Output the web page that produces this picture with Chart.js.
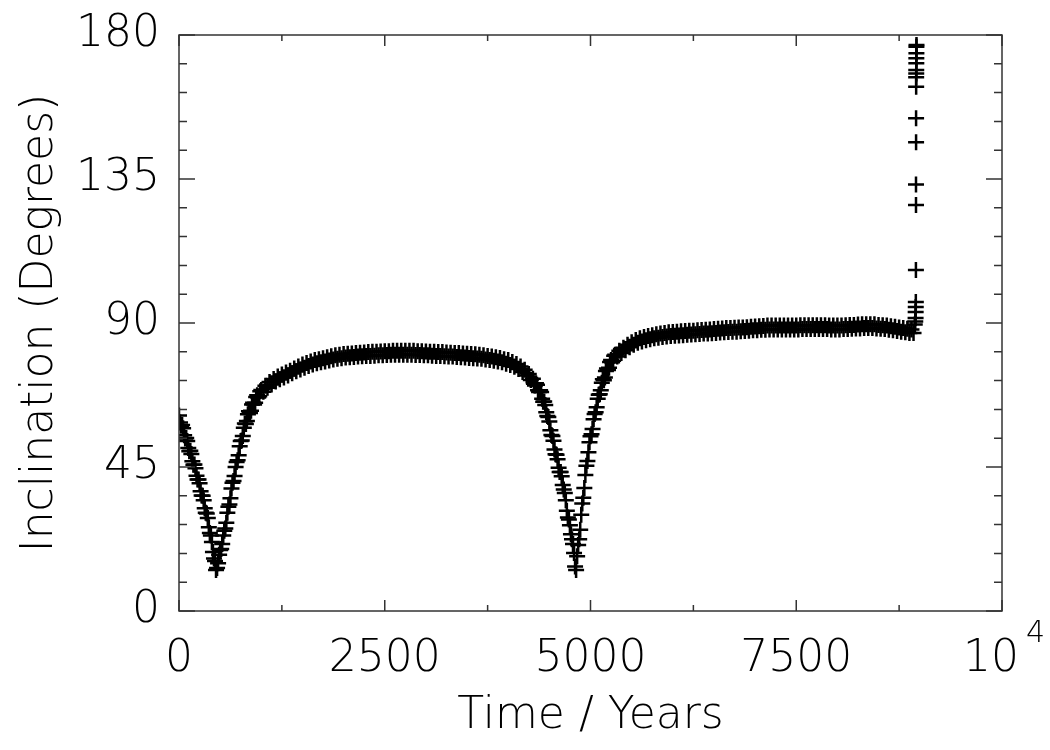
<!DOCTYPE html>
<html>
<head>
<meta charset="utf-8">
<script src="https://cdn.jsdelivr.net/npm/chart.js@4"></script>
<style>
  body { margin: 0; background: #fff; }
  #wrap { width: 1050px; height: 750px; }
</style>
</head>
<body>
<div id="wrap"><canvas id="chart-area" width="1050" height="750"></canvas></div>
<script>
// time samples (years) and inclination (degrees)
var years = [
  0,25,50,75,100,125,150,175,200,225,250,275,300,325,350,375,400,425,450,475,
  500,525,550,575,600,625,650,675,700,725,750,775,800,825,850,875,900,925,950,975,
  1000,1025,1050,1075,1100,1125,1150,1175,1200,1225,1250,1275,1300,1325,1350,1375,1400,1425,1450,1475,
  1500,1525,1550,1575,1600,1625,1650,1675,1700,1725,1750,1775,1800,1825,1850,1875,1900,1925,1950,1975,
  2000,2025,2050,2075,2100,2125,2150,2175,2200,2225,2250,2275,2300,2325,2350,2375,2400,2425,2450,2475,
  2500,2525,2550,2575,2600,2625,2650,2675,2700,2725,2750,2775,2800,2825,2850,2875,2900,2925,2950,2975,
  3000,3025,3050,3075,3100,3125,3150,3175,3200,3225,3250,3275,3300,3325,3350,3375,3400,3425,3450,3475,
  3500,3525,3550,3575,3600,3625,3650,3675,3700,3725,3750,3775,3800,3825,3850,3875,3900,3925,3950,3975,
  4000,4025,4050,4075,4100,4125,4150,4175,4200,4225,4250,4275,4300,4325,4350,4375,4400,4425,4450,4475,
  4500,4525,4550,4575,4600,4625,4650,4675,4700,4725,4750,4775,4800,4825,4850,4875,4900,4925,4950,4975,
  5000,5025,5050,5075,5100,5125,5150,5175,5200,5225,5250,5275,5300,5325,5350,5375,5400,5425,5450,5475,
  5500,5525,5550,5575,5600,5625,5650,5675,5700,5725,5750,5775,5800,5825,5850,5875,5900,5925,5950,5975,
  6000,6025,6050,6075,6100,6125,6150,6175,6200,6225,6250,6275,6300,6325,6350,6375,6400,6425,6450,6475,
  6500,6525,6550,6575,6600,6625,6650,6675,6700,6725,6750,6775,6800,6825,6850,6875,6900,6925,6950,6975,
  7000,7025,7050,7075,7100,7125,7150,7175,7200,7225,7250,7275,7300,7325,7350,7375,7400,7425,7450,7475,
  7500,7525,7550,7575,7600,7625,7650,7675,7700,7725,7750,7775,7800,7825,7850,7875,7900,7925,7950,7975,
  8000,8025,8050,8075,8100,8125,8150,8175,8200,8225,8250,8275,8300,8325,8350,8375,8400,8425,8450,8475,
  8500,8525,8550,8575,8600,8625,8650,8675,8700,8725,8750,8775,8800,8825,8850,8875,8900,8925
];
var inclination = [
  61.1,57.9,57.1,53.9,53.1,49.9,49.1,45.7,44.6,41.1,39.9,36.1,34.6,30.7,29.1,24.4,21.6,16.4,12.8,14.9,
  19.1,20.9,25.1,27.6,32.6,35.2,40.1,42.2,46.6,48.7,53.1,54.7,58.6,59.4,62.4,62.6,65.1,65.1,67.4,67.1,
  69.1,68.5,70.4,69.8,71.6,70.8,72.5,71.7,73.3,72.4,73.9,73,74.5,73.6,75.1,74.3,75.8,74.9,76.4,75.5,
  77,76,77.5,76.6,78,77,78.4,77.4,78.7,77.7,79,78,79.3,78.3,79.6,78.6,79.9,78.8,80.1,79,
  80.3,79.2,80.4,79.3,80.5,79.4,80.6,79.5,80.7,79.6,80.8,79.7,80.9,79.7,81,79.8,81,79.9,81.1,79.9,
  81.2,80,81.2,80.1,81.3,80.1,81.3,80.1,81.3,80.1,81.3,80.1,81.3,80.1,81.3,80,81.2,80,81.2,79.9,
  81.1,79.9,81,79.8,81,79.7,80.9,79.7,80.9,79.6,80.8,79.5,80.7,79.5,80.6,79.4,80.6,79.3,80.5,79.2,
  80.4,79.1,80.3,79,80.2,78.9,80.1,78.8,79.9,78.6,79.7,78.4,79.5,78.2,79.3,78,79.1,77.7,78.7,77.3,
  78.4,76.9,77.8,76.3,77.2,75.6,76.4,74.7,75.4,73.6,74.1,72.2,72.6,70.5,70.7,68.4,68.4,65.4,64.4,60.9,
  59.2,55,53.2,49,47.4,43.4,42.1,38,34.6,29.2,26.8,22.4,18.1,12.8,20.6,25.4,33.6,38.4,45.4,49.6,
  54.6,56.9,61.6,63.7,67.6,69,72.4,73,75.8,76,78.4,78.2,80.1,79.5,81.3,80.6,82.3,81.5,83.2,82.4,
  84,83.2,84.7,83.8,85.2,84.2,85.6,84.6,85.9,84.9,86.2,85.2,86.5,85.4,86.7,85.6,86.9,85.8,87.1,85.9,
  87.2,86,87.3,86.1,87.4,86.2,87.5,86.3,87.6,86.4,87.6,86.5,87.7,86.6,87.8,86.7,87.9,86.7,88,86.8,
  88.1,86.9,88.2,87,88.3,87.1,88.4,87.2,88.4,87.3,88.5,87.3,88.6,87.4,88.6,87.5,88.7,87.6,88.8,87.7,
  88.9,87.7,89,87.9,89.1,87.9,89.2,88,89.2,88,89.2,88,89.2,88,89.2,88,89.2,88,89.2,88,
  89.2,88,89.3,88.1,89.3,88.1,89.3,88.1,89.3,88.1,89.3,88.1,89.3,88.1,89.3,88.1,89.2,88,89.2,88,
  89.2,88,89.2,88.1,89.3,88.1,89.4,88.2,89.4,88.3,89.5,88.3,89.6,88.4,89.6,88.4,89.6,88.4,89.6,88.3,
  89.4,88.2,89.3,88.1,89.2,87.9,89,87.7,88.8,87.5,88.6,87.3,88.4,87.1,88.2,86.9,88,86.9
];
// in-between samples through the two dips, where the curve is steep
var dipYears = [
  12.5,37.5,62.5,87.5,112.5,137.5,162.5,187.5,212.5,237.5,262.5,287.5,312.5,337.5,362.5,387.5,412.5,437.5,462.5,487.5,
  512.5,537.5,562.5,587.5,612.5,637.5,662.5,687.5,712.5,737.5,762.5,787.5,812.5,837.5,862.5,887.5,912.5,937.5,962.5,987.5,
  4312.5,4337.5,4362.5,4387.5,4412.5,4437.5,4462.5,4487.5,4512.5,4537.5,4562.5,4587.5,4612.5,4637.5,4662.5,4687.5,4712.5,4737.5,4762.5,4787.5,
  4812.5,4837.5,4862.5,4887.5,4912.5,4937.5,4962.5,4987.5,5012.5,5037.5,5062.5,5087.5,5112.5,5137.5,5162.5,5187.5,5212.5,5237.5,5262.5,5287.5
];
var dipIncl = [
  58.9,58.1,54.9,54.1,50.9,50.1,46.8,45.8,42.3,41.1,37.4,36,32.1,30.5,26.2,23.6,18.4,15.6,13.4,17.6,
  19.4,23.6,25.8,30.7,33.3,38.3,40.6,45,47.1,51.5,53.3,57.3,58.4,61.5,61.9,64.5,64.5,66.9,66.7,68.7,
  71,71.2,69,69,66.3,65.5,62.1,60.6,56.5,54.7,50.5,48.8,44.8,43.4,39.4,36.9,31.3,28.6,24,20.9,
  13.9,17.1,22.4,30.1,35.4,42.5,46.9,52.7,55.2,59.9,62.1,66.3,67.7,71.3,72.1,75,75.3,77.8,77.7,79.8
];
// the last few samples, where the orbit flips
var burstYears = [8940,8946,8950,8951,8952,8953,8954,8955,8955,8956,8956,8957,8957,8958,8958,8959,8959,8960,8960,8961];
var burstIncl = [89.5,90.5,91.6,93.4,95,96.6,106.6,126.9,133.3,146.5,154,163.8,166.8,168,169.1,171.2,172.7,174.3,176.3,176.9];

var xMajor = [0, 2500, 5000, 7500, 10000];
var xMinor = [1250, 3750, 6250, 8750];
var yMajor = [0, 45, 90, 135, 180];
var yMinor = [9,18,27,36,54,63,72,81,99,108,117,126,144,153,162,171];

var FONT = '"DejaVu Sans", sans-serif';

function pairs(xs, ys) {
  return xs.map(function(t, i) { return { x: t, y: ys[i] }; });
}

var frame = {
  id: 'frame',
  afterDraw: function(chart) {
    var ctx = chart.ctx, a = chart.chartArea;
    var x = chart.scales.x, y = chart.scales.y;
    ctx.save();
    ctx.strokeStyle = '#333';
    ctx.lineWidth = 1.5;
    ctx.strokeRect(a.left, a.top, a.right - a.left, a.bottom - a.top);
    ctx.beginPath();
    xMajor.concat(xMinor).forEach(function(v) {
      var px = x.getPixelForValue(v), len = xMajor.indexOf(v) >= 0 ? 11 : 6;
      ctx.moveTo(px, a.bottom); ctx.lineTo(px, a.bottom - len);
      ctx.moveTo(px, a.top); ctx.lineTo(px, a.top + len);
    });
    yMajor.concat(yMinor).forEach(function(v) {
      var py = y.getPixelForValue(v), len = yMajor.indexOf(v) >= 0 ? 16 : 8;
      ctx.moveTo(a.left, py); ctx.lineTo(a.left + len, py);
      ctx.moveTo(a.right, py); ctx.lineTo(a.right - len, py);
    });
    ctx.stroke();
    // exponent of the 10^4 label
    ctx.fillStyle = '#000';
    ctx.font = '200 30px ' + FONT;
    ctx.textBaseline = 'middle';
    ctx.fillText('4', x.getPixelForValue(10000) + 24, 634);
    ctx.restore();
  }
};

var markerStyle = {
  pointStyle: 'cross',
  pointRadius: 8,
  borderColor: '#000',
  backgroundColor: '#000',
  borderWidth: 2.5
};

new Chart(document.getElementById('chart-area'), {
  type: 'scatter',
  data: {
    datasets: [
      Object.assign({ label: 'Inclination', data: pairs(years, inclination) }, markerStyle),
      Object.assign({ label: 'Dips', data: pairs(dipYears, dipIncl) }, markerStyle),
      Object.assign({ label: 'Flip', data: pairs(burstYears, burstIncl) }, markerStyle)
    ]
  },
  options: {
    responsive: false,
    animation: false,
    events: [],
    layout: { padding: { left: 0, right: 48, top: 35, bottom: 0 } },
    plugins: { legend: { display: false }, tooltip: { enabled: false } },
    scales: {
      x: {
        type: 'linear', min: 0, max: 10000,
        grid: { display: false, drawTicks: false },
        border: { display: false },
        ticks: {
          stepSize: 2500, autoSkip: false, maxRotation: 0, padding: 22,
          color: '#000', font: { family: FONT, size: 44, weight: 200 },
          callback: function(v) { return v === 10000 ? '10\u2002' : String(v); }
        },
        title: {
          display: true, text: 'Time / Years', color: '#000',
          font: { family: FONT, size: 44, weight: 200 },
          padding: { top: 0, bottom: 7 }
        },
        afterFit: function(s) { s.height = 139; s.paddingLeft = 0; s.paddingRight = 0; }
      },
      y: {
        min: 0, max: 180,
        grid: { display: false, drawTicks: false },
        border: { display: false },
        ticks: {
          stepSize: 45, autoSkip: false, padding: 19,
          color: '#000', font: { family: FONT, size: 44, weight: 200 }
        },
        title: {
          display: true, text: 'Inclination (Degrees)', color: '#000',
          font: { family: FONT, size: 44, weight: 200 },
          padding: { top: 14, bottom: 0 }
        },
        afterFit: function(s) { s.width = 179; s.paddingTop = 0; s.paddingBottom = 0; }
      }
    }
  },
  plugins: [frame]
});
</script>
</body>
</html>
